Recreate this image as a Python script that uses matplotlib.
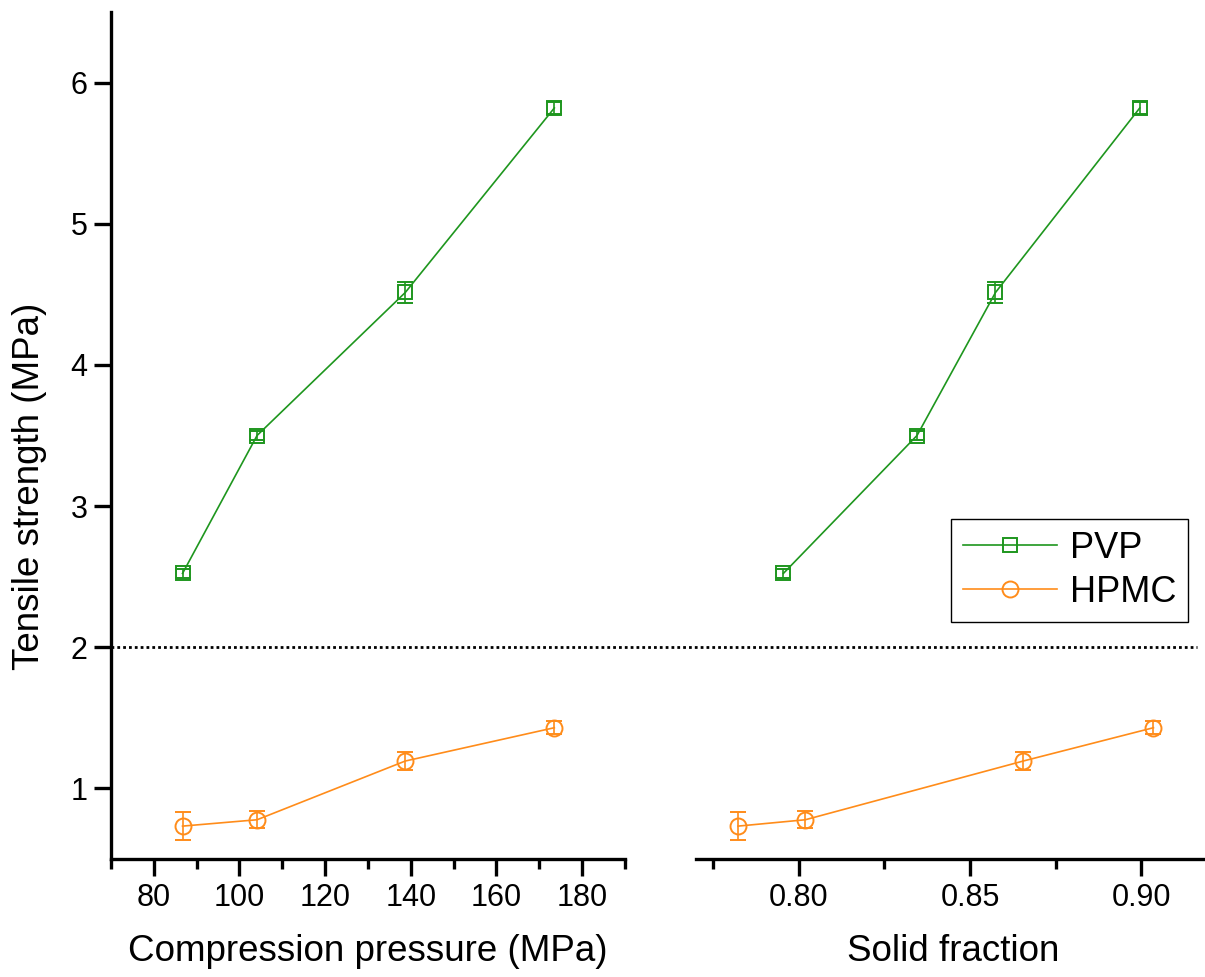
import matplotlib
matplotlib.use("Agg")
import matplotlib.pyplot as plt
from matplotlib.ticker import MultipleLocator
from matplotlib.transforms import blended_transform_factory
from matplotlib.lines import Line2D

plt.rcParams['font.family'] = ['Liberation Sans', 'DejaVu Sans']

# Data
pressure_pvp = [86.7, 104.1, 138.7, 173.5]
pressure_hpmc = [86.7, 104.1, 138.7, 173.5]
solid_pvp = [0.7955, 0.8345, 0.8574, 0.8995]
solid_hpmc = [0.7823, 0.8019, 0.8655, 0.9035]
ts_pvp = [2.523, 3.50, 4.513, 5.82]
ts_pvp_err = [0.03, 0.03, 0.075, 0.045]
ts_hpmc = [0.733, 0.778, 1.194, 1.43]
ts_hpmc_err = [0.10, 0.06, 0.067, 0.045]
threshold = 2.0
series_labels = ['PVP', 'HPMC']

green = '#1e961e'
orange = '#ff8c1a'

W, H = 1205, 977
fig = plt.figure(figsize=(W / 100, H / 100), dpi=100)

ax_l = fig.add_axes([111 / W, (H - 859) / H, 514 / W, 847 / H])
ax_r = fig.add_axes([696 / W, (H - 859) / H, 514 / W, 847 / H])
ax_l.set_zorder(2)
ax_l.patch.set_alpha(0)
ax_r.patch.set_alpha(0)

sq_ms, ci_ms = 10.3, 11.5
common = dict(lw=1.2, elinewidth=1.2, capsize=5.8, capthick=1.2, mfc='none', mew=1.4)

for ax, xp, xh in [(ax_l, pressure_pvp, pressure_hpmc), (ax_r, solid_pvp, solid_hpmc)]:
    ax.errorbar(xp, ts_pvp, yerr=ts_pvp_err, fmt='-s', color=green, ms=sq_ms, **common)
    ax.errorbar(xh, ts_hpmc, yerr=ts_hpmc_err, fmt='-o', color=orange, ms=ci_ms, **common)
    ax.set_ylim(0.5, 6.5)
    for s in ['top', 'right']:
        ax.spines[s].set_visible(False)
    ax.spines['bottom'].set_linewidth(2.4)
    ax.spines['left'].set_linewidth(2.4)
    ax.tick_params(axis='both', which='major', width=2.4, length=12, labelsize=22, pad=5)
    ax.tick_params(axis='x', which='minor', width=2.4, length=7)

ax_l.set_xlim(70, 190)
ax_l.xaxis.set_major_locator(MultipleLocator(20))
ax_l.xaxis.set_minor_locator(MultipleLocator(10))
ax_l.yaxis.set_major_locator(MultipleLocator(1))
ax_l.set_xlabel('Compression pressure (MPa)', fontsize=26.5)
ax_l.set_ylabel('Tensile strength (MPa)', fontsize=26.5)
ax_l.xaxis.set_label_coords(0.5, -0.088)
ax_l.yaxis.set_label_coords(-0.125, 0.44)

ax_r.set_xlim(0.77, 0.92)
ax_r.xaxis.set_major_locator(MultipleLocator(0.05))
ax_r.xaxis.set_minor_locator(MultipleLocator(0.025))
ax_r.xaxis.set_major_formatter(plt.FormatStrFormatter('%.2f'))
ax_r.spines['left'].set_visible(False)
ax_r.set_yticks([])
ax_r.set_xlabel('Solid fraction', fontsize=26.5)
ax_r.xaxis.set_label_coords(0.5, -0.088)

# dotted threshold line across both panels
trans = blended_transform_factory(ax_l.transAxes, ax_l.transData)
ax_l.plot([0, (1197 - 111) / 514], [threshold, threshold], transform=trans,
          color='black', lw=2.0, linestyle=(0, (1, 1.1)), clip_on=False)

handles = [
    Line2D([], [], color=green, marker='s', ms=sq_ms, mfc='none', mew=1.4, lw=1.2),
    Line2D([], [], color=orange, marker='o', ms=ci_ms, mfc='none', mew=1.4, lw=1.2),
]
leg = ax_r.legend(handles, series_labels, loc='upper right',
                  bbox_to_anchor=(1188 / W, 1 - 519 / H),
                  bbox_transform=fig.transFigure, fontsize=26, frameon=True,
                  fancybox=False, edgecolor='black', framealpha=1, numpoints=1,
                  handlelength=2.6, handletextpad=0.35, labelspacing=0.25,
                  borderpad=0.33, borderaxespad=0)
leg.get_frame().set_linewidth(1.0)

fig.savefig('out.png', dpi=100)
